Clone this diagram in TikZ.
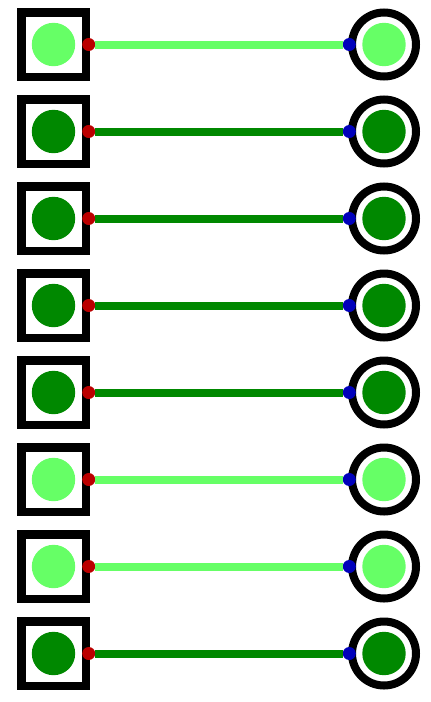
\documentclass[tikz,border=0pt]{standalone}
\usepackage{tikz}
\usetikzlibrary{fit, arrows}
\definecolor{lite}{HTML}{66FF66}
\definecolor{dark}{HTML}{008800}
\definecolor{redd}{HTML}{BB0000}
\definecolor{blue}{HTML}{0000BB}
\begin{document}
\begin{tikzpicture}[
                x = 1pt, y = -1pt,
                node distance = 87pt, % distance between rows
                semithick % line style
            ]

            \tikzstyle{every node}=[inner sep = 0pt, outer sep = 0pt]
            \tikzstyle{sqr}=[draw = black, rectangle, line width = 8.5pt,
            minimum size = 64.5pt]
            \tikzstyle{rng}=[draw = black, circle, line width = 8pt,
            minimum size = 64pt]
            \tikzstyle{disk}=[circle, minimum size = 43.4pt]
            \tikzstyle{rdot}=[circle, fill = redd, minimum size = 13pt]
            \tikzstyle{bdot}=[circle, fill = blue, minimum size = 13pt]
            \tikzstyle{wire}=[line width = 8pt]

            \useasboundingbox (0,0) rectangle (431,702);

            \node (s1) [sqr] at (53.5,44.5) {}; \node (s2) [sqr, below of=s1]
            {}; \node (s3) [sqr, below of=s2] {}; \node (s4) [sqr, below of=s3]
            {}; \node (s5) [sqr, below of=s4] {}; \node (s6) [sqr, below of=s5]
            {}; \node (s7) [sqr, below of=s6] {}; \node (s8) [sqr, below of=s7]
            {};

            \node (r1) [rng, right of=s1, node distance=330.5pt] {}; \node (r2)
            [rng, below of=r1] {}; \node (r3) [rng, below of=r2] {}; \node (r4)
            [rng, below of=r3] {}; \node (r5) [rng, below of=r4] {}; \node (r6)
            [rng, below of=r5] {}; \node (r7) [rng, below of=r6] {}; \node (r8)
            [rng, below of=r7] {};

            \node (p1) [disk, fill=lite] at (s1) {}; \node (p2) [disk,
            fill=dark] at (s2) {}; \node (p3) [disk, fill=dark] at (s3) {};
            \node (p4) [disk, fill=dark] at (s4) {}; \node (p5) [disk,
            fill=dark] at (s5) {}; \node (p6) [disk, fill=lite] at (s6) {};
            \node (p7) [disk, fill=lite] at (s7) {}; \node (p8) [disk,
            fill=dark] at (s8) {};

            \node (q1) [disk, fill=lite] at (r1) {}; \node (q2) [disk,
            fill=dark] at (r2) {}; \node (q3) [disk, fill=dark] at (r3) {};
            \node (q4) [disk, fill=dark] at (r4) {}; \node (q5) [disk,
            fill=dark] at (r5) {}; \node (q6) [disk, fill=lite] at (r6) {};
            \node (q7) [disk, fill=lite] at (r7) {}; \node (q8) [disk,
            fill=dark] at (r8) {};

            \node (a1) [rdot, right of=s1, node distance=35.2pt] {}; \node (a2)
            [rdot, right of=s2, node distance=35.2pt] {}; \node (a3) [rdot,
            right of=s3, node distance=35.2pt] {}; \node (a4) [rdot, right
            of=s4, node distance=35.2pt] {}; \node (a5) [rdot, right of=s5,
            node distance=35.2pt] {}; \node (a6) [rdot, right of=s6, node
            distance=35.2pt] {}; \node (a7) [rdot, right of=s7, node
            distance=35.2pt] {}; \node (a8) [rdot, right of=s8, node
            distance=35.2pt] {};

            \node (b1) [bdot, left of=r1, node distance=34.7pt] {}; \node (b2)
            [bdot, left of=r2, node distance=34.7pt] {}; \node (b3) [bdot, left
            of=r3, node distance=34.7pt] {}; \node (b4) [bdot, left of=r4, node
            distance=34.7pt] {}; \node (b5) [bdot, left of=r5, node
            distance=34.7pt] {}; \node (b6) [bdot, left of=r6, node
            distance=34.7pt] {}; \node (b7) [bdot, left of=r7, node
            distance=34.7pt] {}; \node (b8) [bdot, left of=r8, node
            distance=34.7pt] {};

            \path[wire, lite] (a1) edge (b1); \path[wire, dark] (a2) edge (b2);
            \path[wire, dark] (a3) edge (b3); \path[wire, dark] (a4) edge (b4);
            \path[wire, dark] (a5) edge (b5); \path[wire, lite] (a6) edge (b6);
            \path[wire, lite] (a7) edge (b7); \path[wire, dark] (a8) edge (b8);

        \end{tikzpicture}
\end{document}
